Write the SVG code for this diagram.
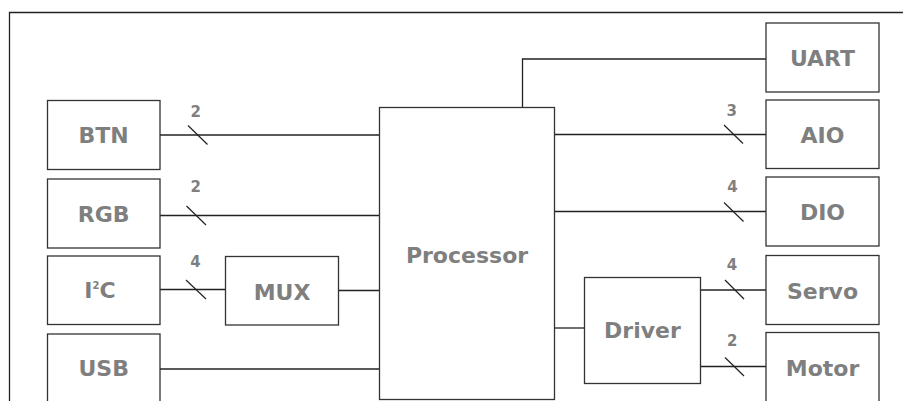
<svg xmlns="http://www.w3.org/2000/svg" width="903" height="401" viewBox="0 0 903 401">
<style>
.box{fill:#fff;stroke:#333;stroke-width:1.3}
.lbl{font-family:"DejaVu Sans",sans-serif;font-weight:bold;font-size:22px;fill:#7f7f7f;text-anchor:middle}
.num{font-family:"DejaVu Sans",sans-serif;font-weight:bold;font-size:15px;fill:#7f7f7f;text-anchor:middle}
.wire{fill:none;stroke:#222;stroke-width:1.3}
.tick{stroke:#222;stroke-width:1.2}
</style>
<rect width="903" height="401" fill="#fff"/>
<path d="M9.5 401 V12.5 H903" fill="none" stroke="#222" stroke-width="1.3"/>
<g id="connectors">
<path class="wire" d="M160 135 H379.5"/>
<path class="wire" d="M160 215.5 H379.5"/>
<path class="wire" d="M160 289.5 H225.5"/>
<path class="wire" d="M338.5 290.5 H379.5"/>
<path class="wire" d="M160 369 H379.5"/>
<path class="wire" d="M522.5 107.5 V59 H766"/>
<path class="wire" d="M554.5 134.5 H766"/>
<path class="wire" d="M554.5 211.5 H766"/>
<path class="wire" d="M554.5 328 H584.5"/>
<path class="wire" d="M700.5 290 H766"/>
<path class="wire" d="M700.5 366.5 H766"/>
<line class="tick" x1="188" y1="125.5" x2="207.5" y2="144.5"/>
<line class="tick" x1="186.5" y1="206" x2="206" y2="225"/>
<line class="tick" x1="186" y1="280" x2="206" y2="299"/>
<line class="tick" x1="724" y1="125" x2="743" y2="143.5"/>
<line class="tick" x1="724" y1="202.5" x2="743.5" y2="221.5"/>
<line class="tick" x1="725" y1="280" x2="744" y2="299"/>
<line class="tick" x1="725" y1="357.5" x2="744" y2="376"/>
<text class="num" x="195.7" y="117.3">2</text>
<text class="num" x="195.7" y="191.7">2</text>
<text class="num" x="195.5" y="267.3">4</text>
<text class="num" x="731.7" y="115.7">3</text>
<text class="num" x="732.5" y="192.3">4</text>
<text class="num" x="732" y="270.3">4</text>
<text class="num" x="732.3" y="346">2</text>
</g>
<g id="btn"><rect class="box" x="47.5" y="100.5" width="112.5" height="69"/><text class="lbl" x="103.7" y="143">BTN</text></g>
<g id="rgb"><rect class="box" x="47.5" y="179" width="112.5" height="69"/><text class="lbl" x="103.7" y="222">RGB</text></g>
<g id="i2c"><rect class="box" x="47.5" y="256" width="112.5" height="68.5"/><text class="lbl" x="100" y="298">I<tspan font-size="10" dy="-9">2</tspan><tspan dy="9">C</tspan></text></g>
<g id="usb"><rect class="box" x="47.5" y="334" width="112.5" height="69"/><text class="lbl" x="103.7" y="376">USB</text></g>
<g id="mux"><rect class="box" x="225.5" y="256.5" width="113" height="68.5"/><text class="lbl" x="282" y="300">MUX</text></g>
<g id="processor"><rect class="box" x="379.5" y="107.5" width="175" height="292"/><text class="lbl" x="467" y="263">Processor</text></g>
<g id="uart"><rect class="box" x="766" y="23" width="113" height="69"/><text class="lbl" x="822.5" y="66">UART</text></g>
<g id="aio"><rect class="box" x="766" y="100" width="113" height="68.5"/><text class="lbl" x="822.5" y="142.5">AIO</text></g>
<g id="dio"><rect class="box" x="766" y="177" width="113" height="69"/><text class="lbl" x="822.5" y="220">DIO</text></g>
<g id="servo"><rect class="box" x="766" y="255.5" width="113" height="69"/><text class="lbl" x="822.5" y="299">Servo</text></g>
<g id="motor"><rect class="box" x="766" y="332.5" width="113" height="71"/><text class="lbl" x="822.5" y="375.5">Motor</text></g>
<g id="driver"><rect class="box" x="584.5" y="277.5" width="116" height="106"/><text class="lbl" x="642.5" y="338">Driver</text></g>
</svg>
